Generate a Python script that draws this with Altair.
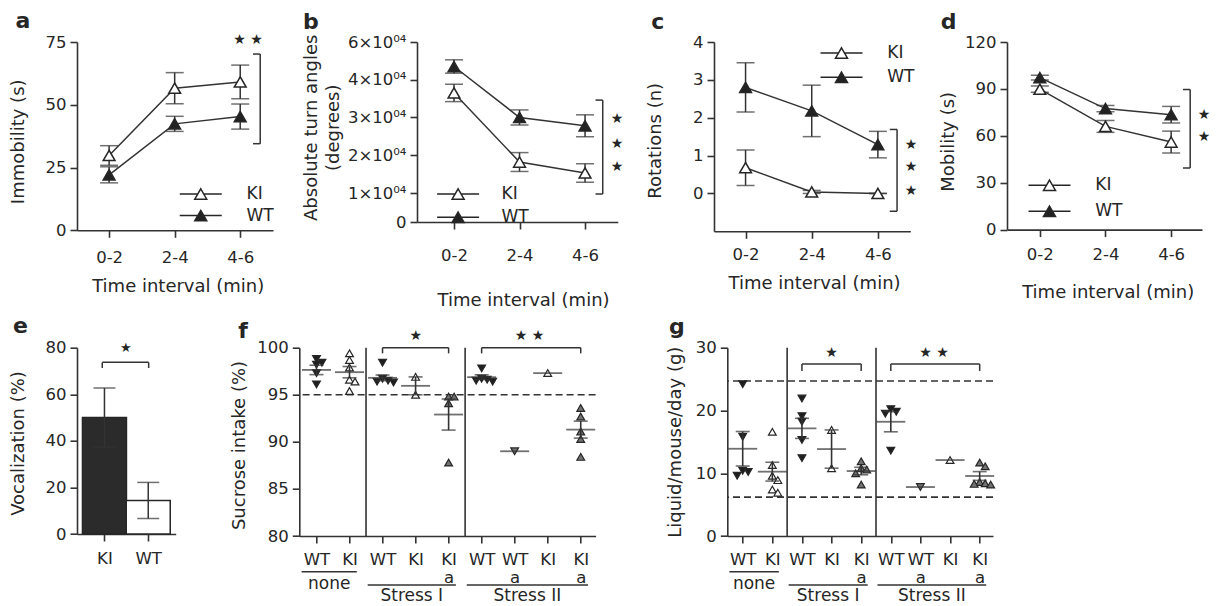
import altair as alt
import pandas as pd

FONT = "DejaVu Sans"
INK = "#262626"
AX = "#333333"

# ---------------- data ----------------
time_labels = ["0-2", "2-4", "4-6"]

a_ki_mean = [29.8, 56.6, 59.1]
a_ki_sem = [3.9, 6.2, 6.7]
a_wt_mean = [22.1, 42.4, 45.3]
a_wt_sem = [3.2, 3.0, 5.0]

b_ki_mean = [36500, 18200, 15300]
b_ki_sem = [2300, 2500, 2450]
b_wt_mean = [47000, 30000, 27800]
b_wt_sem = [3550, 2000, 2900]

c_ki_mean = [0.68, 0.04, 0.0]
c_ki_sem = [0.47, 0.04, 0.0]
c_wt_mean = [2.80, 2.18, 1.29]
c_wt_sem = [0.65, 0.68, 0.35]

d_ki_mean = [89.8, 66.0, 56.0]
d_ki_sem = [2.0, 3.8, 7.0]
d_wt_mean = [97.2, 77.4, 73.5]
d_wt_sem = [1.5, 2.0, 5.3]

e_groups = ["KI", "WT"]
e_mean = [50.0, 14.4]
e_sem = [12.7, 7.75]

grp_genotype = ["WT", "KI", "WT", "KI", "KI", "WT", "WT", "KI", "KI"]
grp_treat = ["", "", "", "", "a", "", "a", "", "a"]
grp_condition = ["none", "none", "Stress I", "Stress I", "Stress I",
                 "Stress II", "Stress II", "Stress II", "Stress II"]

f_values = [
    [98.8, 98.4, 98.2, 97.3, 96.1],
    [99.4, 98.7, 97.9, 96.6, 96.4, 95.4],
    [98.4, 96.7, 96.5, 96.4, 96.3],
    [96.9, 95.0],
    [94.8, 94.8, 94.1, 87.8],
    [97.8, 96.7, 96.6, 96.5, 96.4],
    [89.0],
    [97.3],
    [93.6, 92.7, 91.1, 90.3, 88.4],
]
f_mean = [97.64, 97.4, 96.8, 95.95, 92.9, 96.87, 89.0, 97.3, 91.3]
f_sem = [0.5, 0.6, 0.3, 0.95, 1.65, 0.25, 0.0, 0.0, 0.9]
f_reference = [95]

g_values = [
    [24.2, 15.8, 10.4, 10.2, 9.6],
    [16.6, 11.3, 9.6, 8.9, 7.4, 6.9],
    [21.9, 19.1, 18.2, 15.3, 12.4],
    [16.9, 10.8],
    [11.9, 10.8, 10.6, 10.0, 8.2],
    [20.2, 19.8, 19.5, 13.6],
    [7.8],
    [12.1],
    [11.7, 11.1, 8.6, 8.4, 8.3, 8.2],
]
g_mean = [13.9, 10.25, 17.15, 13.85, 10.35, 18.2, 7.8, 12.1, 9.56]
g_sem = [2.75, 1.5, 1.6, 3.05, 0.6, 1.6, 0.0, 0.0, 0.7]
g_reference = [24.7, 6.2]

# ---------------- helpers ----------------
LEG_PATH = "M-3.5,0H-0.5M0.5,0H3.5M0,-0.866L1,0.866L-1,0.866Z"


def letter_title(t, dx, dy):
    return alt.TitleParams(text=t, anchor="start", frame="group", dx=dx, dy=dy,
                           fontSize=22, fontWeight="bold", font=FONT, color=INK,
                           offset=0)


def line_panel(letter, kim, kis, wtm, wts, width, height, xdom, yscale, yvals,
               ylabel_expr, ytitle, ytx, yty, xtx, xty, xlabpad, legend,
               bracket, stars, ldx, ldy, title_lh=None):
    rows = []
    for g, m, s in (("KI", kim, kis), ("WT", wtm, wts)):
        for i, lab in enumerate(time_labels):
            rows.append({"i": i, "group": g, "mean": m[i], "lo": m[i] - s[i],
                         "hi": m[i] + s[i]})
    df = pd.DataFrame(rows)
    xa = alt.Axis(values=list(range(len(time_labels))),
                  labelExpr="[" + ",".join(f"'{t}'" for t in time_labels) + "][datum.value]",
                  title="Time interval (min)", titleX=xtx, titleY=xty,
                  titleBaseline="middle", titleAlign="center",
                  labelPadding=xlabpad)
    yk = dict(values=yvals, title=ytitle, titleX=ytx, titleY=yty,
              titleBaseline="middle", titleAlign="center", titleAngle=270)
    if ylabel_expr:
        yk["labelExpr"] = ylabel_expr
    if title_lh:
        yk["titleLineHeight"] = title_lh
    ya = alt.Axis(**yk)
    xs = alt.Scale(domain=xdom, nice=False, zero=False)

    def X(f):
        return alt.X(f"{f}:Q", scale=xs, axis=xa)

    def Y(f):
        return alt.Y(f"{f}:Q", scale=yscale, axis=ya)

    base = alt.Chart(df)
    line = base.mark_line(color=AX, strokeWidth=1.5).encode(X("i"), Y("mean"), detail="group:N")
    err = base.mark_rule(color=AX, strokeWidth=1.5).encode(X("i"), Y("lo"), y2="hi:Q")
    cap_lo = base.mark_tick(orient="horizontal", size=18, thickness=1.5, color=AX).encode(X("i"), Y("lo"))
    cap_hi = base.mark_tick(orient="horizontal", size=18, thickness=1.5, color=AX).encode(X("i"), Y("hi"))
    lx, ly, lrp, loff = legend
    pts = base.mark_point(shape="triangle-up", size=140, filled=True, stroke=INK,
                          strokeWidth=1.5, opacity=1).encode(
        X("i"), Y("mean"),
        fill=alt.Fill("group:N", scale=alt.Scale(domain=["KI", "WT"], range=["white", "#222222"]),
                      legend=alt.Legend(orient="none", legendX=lx, legendY=ly, title=None,
                                        symbolType=LEG_PATH, symbolSize=144,
                                        symbolStrokeColor=INK, symbolStrokeWidth=1.5,
                                        labelFontSize=17, labelFont=FONT, labelColor=INK,
                                        rowPadding=lrp, labelOffset=loff)))
    bx, by1, by2 = bracket
    bdf = pd.DataFrame({"x": [bx], "xl": [bx - 0.11], "y1": [by1], "y2": [by2]})
    bv = alt.Chart(bdf).mark_rule(color=AX, strokeWidth=1.5).encode(X("x"), Y("y1"), y2="y2:Q")
    bt = alt.Chart(bdf).mark_rule(color=AX, strokeWidth=1.5).encode(X("xl"), x2="x:Q", y=Y("y1"))
    bb = alt.Chart(bdf).mark_rule(color=AX, strokeWidth=1.5).encode(X("xl"), x2="x:Q", y=Y("y2"))
    sdf = pd.DataFrame(stars, columns=["x", "y", "t"])
    st = alt.Chart(sdf).mark_text(fontSize=14, color=INK, font=FONT).encode(X("x"), Y("y"), text="t:N")
    return alt.layer(line, err, cap_lo, cap_hi, pts, bv, bt, bb, st).properties(
        width=width, height=height, title=letter_title(letter, ldx, ldy))


pa = line_panel("a", a_ki_mean, a_ki_sem, a_wt_mean, a_wt_sem, 196, 188.3, [-0.49, 2.5],
                alt.Scale(domain=[0, 75], nice=False, zero=False), [0, 25, 50, 75], None,
                "Immobility (s)", -59, 99.3, 100.7, 56, 11.7, (115.25, 143.5, 3.6, 37.25),
                (2.305, 70.2, 34.5), [(2.12, 75.8, "★ ★")], -61.5, 0)

pb = line_panel("b", b_ki_mean, b_ki_sem, b_wt_mean, b_wt_sem, 200.8, 180, [-0.565, 2.5],
                alt.Scale(domain=[0, 10000, 40000, 60000], range=[180, 151, 37.7, 0],
                          nice=False, zero=False),
                [0, 10000, 20000, 30000, 40000, 60000],
                "datum.value == 0 ? '0' : format(datum.value / 10000, 'd') + '×10⁰⁴'",
                ["Absolute turn angles", "(degrees)"], -105.7, 85.3, 106, 78, 18.7,
                (32.6, 143.5, 5.3, 34.95),
                (2.27, 34600, 9655), [(2.49, 29514, "★"), (2.49, 22895, "★"), (2.49, 16805, "★")],
                -114, 0, title_lh=22.7)

pc = line_panel("c", c_ki_mean, c_ki_sem, c_wt_mean, c_wt_sem, 196.3, 189.3, [-0.477, 2.49],
                alt.Scale(domain=[-1, 4], nice=False, zero=False), [0, 1, 2, 3, 4], None,
                "Rotations (n)", -58.4, 98.3, 100, 52.5, 7.7, (119, 2.5, 6.3, 37.25),
                (2.29, 1.69, -0.47), [(2.5, 1.29, "★"), (2.5, 0.70, "★"), (2.5, 0.06, "★")],
                -62.7, 0)

pd_ = line_panel("d", d_ki_mean, d_ki_sem, d_wt_mean, d_wt_sem, 195, 187.6, [-0.5, 2.47],
                 alt.Scale(domain=[0, 120], nice=False, zero=False), [0, 30, 60, 90, 120], None,
                 "Mobility (s)", -58.3, 99.3, 100.7, 63, 10.2, (34, 134.8, 8, 37.25),
                 (2.29, 89.6, 39.4), [(2.5, 73.1, "★"), (2.5, 59.3, "★")],
                 -66.3, 0)

# ---------------- panel e ----------------
edf = pd.DataFrame({"i": list(range(len(e_groups))), "group": e_groups, "mean": e_mean,
                    "lo": [m - s for m, s in zip(e_mean, e_sem)],
                    "hi": [m + s for m, s in zip(e_mean, e_sem)]})
e_xs = alt.Scale(domain=[-0.513, 1.513], nice=False, zero=False)
e_xa = alt.Axis(values=[0, 1], labelExpr="[" + ",".join(f"'{g}'" for g in e_groups) + "][datum.value]",
                title=None, labelPadding=9)
e_ys = alt.Scale(domain=[0, 80], nice=False, zero=False)
e_ya = alt.Axis(values=[0, 20, 40, 60, 80], title="Vocalization (%)", titleX=-59, titleY=95.3,
                titleBaseline="middle", titleAlign="center", titleAngle=270)


def EX(f):
    return alt.X(f"{f}:Q", scale=e_xs, axis=e_xa)


def EY(f):
    return alt.Y(f"{f}:Q", scale=e_ys, axis=e_ya)


eb = alt.Chart(edf)
e_bar = eb.mark_bar(size=44, stroke=INK, strokeWidth=1.5).encode(
    EX("i"), EY("mean"),
    fill=alt.Fill("group:N", scale=alt.Scale(domain=e_groups, range=["#2b2b2b", "white"]), legend=None))
e_err = eb.mark_rule(color=AX, strokeWidth=1.5).encode(EX("i"), EY("lo"), y2="hi:Q")
e_clo = eb.mark_tick(orient="horizontal", size=22, thickness=1.5, color=AX).encode(EX("i"), EY("lo"))
e_chi = eb.mark_tick(orient="horizontal", size=22, thickness=1.5, color=AX).encode(EX("i"), EY("hi"))
ebr = pd.DataFrame({"x1": [-0.05], "x2": [1.01], "y": [73.7], "yd": [71.3]})
e_b1 = alt.Chart(ebr).mark_rule(color=AX, strokeWidth=1.5).encode(EX("x1"), x2="x2:Q", y=EY("y"))
e_b2 = alt.Chart(ebr).mark_rule(color=AX, strokeWidth=1.5).encode(EX("x1"), EY("y"), y2="yd:Q")
e_b3 = alt.Chart(ebr).mark_rule(color=AX, strokeWidth=1.5).encode(EX("x2"), EY("y"), y2="yd:Q")
e_st = alt.Chart(pd.DataFrame({"x": [0.49], "y": [79.7], "t": ["★"]})).mark_text(
    fontSize=13, color=INK, font=FONT).encode(EX("x"), EY("y"), text="t:N")
pe = alt.layer(e_bar, e_err, e_clo, e_chi, e_b1, e_b2, e_b3, e_st).properties(
    width=98.7, height=186.3, title=letter_title("e", -64, -1.5))


# ---------------- panels f, g ----------------
def swarm(vals, ppu_y, ppu_x, step=5.5):
    placed, offs = [], []
    for v in vals:
        y = v * ppu_y
        x = 0.0
        for k in [0, 1, -1, 2, -2, 3, -3, 4, -4]:
            x = k * step
            if all((x - px) ** 2 + (y - py) ** 2 >= step ** 2 for px, py in placed):
                break
        placed.append((x, y))
        offs.append(x / ppu_x)
    return offs


KINDS = ["WT", "KI", "KIa", "WTa"]
KIND_SHAPE = ["triangle-down", "triangle-up", "triangle-up", "triangle-down"]
KIND_FILL = ["#1e1e1e", "white", "#727272", "#727272"]


def scatter_panel(letter, values, means, sems, refs, width, height, ydom, yvals, ytitle,
                  ytx, yty, brackets, stars, ldx, ldy):
    n = len(grp_genotype)
    xdom = [-0.52, 8.45]
    ppu_x = width / (xdom[1] - xdom[0])
    ppu_y = height / (ydom[1] - ydom[0])
    prow = []
    for i, vals in enumerate(values):
        kind = grp_genotype[i] + grp_treat[i]
        for v, o in zip(vals, swarm(vals, ppu_y, ppu_x)):
            prow.append({"xj": i + o, "v": v, "kind": kind})
    pdf = pd.DataFrame(prow)
    mdf = pd.DataFrame({"i": list(range(n)), "mean": means,
                        "lo": [m - s for m, s in zip(means, sems)],
                        "hi": [m + s for m, s in zip(means, sems)], "sem": sems})
    sdf = mdf[mdf["sem"] > 0]
    labels = [g + ("|" + t if t else "") for g, t in zip(grp_genotype, grp_treat)]
    xa = alt.Axis(values=list(range(n)),
                  labelExpr="split([" + ",".join(f"'{l}'" for l in labels) + "][datum.value], '|')",
                  title=None, labelPadding=8, labelLineHeight=18, labelAngle=0)
    xs = alt.Scale(domain=xdom, nice=False, zero=False)
    ys = alt.Scale(domain=ydom, nice=False, zero=False)
    ya = alt.Axis(values=yvals, title=ytitle, titleX=ytx, titleY=yty,
                  titleBaseline="middle", titleAlign="center", titleAngle=270)

    def X(f):
        return alt.X(f"{f}:Q", scale=xs, axis=xa)

    def Y(f):
        return alt.Y(f"{f}:Q", scale=ys, axis=ya)

    conds = []
    for c in dict.fromkeys(grp_condition):
        idx = [i for i, cc in enumerate(grp_condition) if cc == c]
        has_sub = any(grp_treat[i] for i in idx)
        conds.append({"c": c, "x1": idx[0] - 0.45, "x2": idx[-1] + 0.22,
                      "xm": (idx[0] - 0.45 + idx[-1] + 0.22) / 2, "sub": has_sub,
                      "first": idx[0]})
    cdf = pd.DataFrame(conds)
    sep = pd.DataFrame({"s": [r["first"] - 0.5 for r in conds[1:]]})

    sep_l = alt.Chart(sep).mark_rule(color=AX, strokeWidth=1.6).encode(X("s"))
    ref_l = alt.Chart(pd.DataFrame({"r": refs})).mark_rule(
        color=AX, strokeWidth=1.6, strokeDash=[7, 4]).encode(Y("r"))
    pts = alt.Chart(pdf).mark_point(filled=True, size=60, stroke=INK, strokeWidth=1.2, opacity=1).encode(
        X("xj"), Y("v"),
        shape=alt.Shape("kind:N", scale=alt.Scale(domain=KINDS, range=KIND_SHAPE), legend=None),
        fill=alt.Fill("kind:N", scale=alt.Scale(domain=KINDS, range=KIND_FILL), legend=None))
    mean_t = alt.Chart(mdf).mark_tick(orient="horizontal", size=29, thickness=1.8, color=AX).encode(X("i"), Y("mean"))
    sem_r = alt.Chart(sdf).mark_rule(color=AX, strokeWidth=1.6).encode(X("i"), Y("lo"), y2="hi:Q")
    sem_lo = alt.Chart(sdf).mark_tick(orient="horizontal", size=14, thickness=1.6, color=AX).encode(X("i"), Y("lo"))
    sem_hi = alt.Chart(sdf).mark_tick(orient="horizontal", size=14, thickness=1.6, color=AX).encode(X("i"), Y("hi"))
    bdf = pd.DataFrame(brackets, columns=["x1", "x2", "y", "yd"])
    b1 = alt.Chart(bdf).mark_rule(color=AX, strokeWidth=1.5).encode(X("x1"), x2="x2:Q", y=Y("y"))
    b2 = alt.Chart(bdf).mark_rule(color=AX, strokeWidth=1.5).encode(X("x1"), Y("y"), y2="yd:Q")
    b3 = alt.Chart(bdf).mark_rule(color=AX, strokeWidth=1.5).encode(X("x2"), Y("y"), y2="yd:Q")
    st = alt.Chart(pd.DataFrame(stars, columns=["x", "y", "t"])).mark_text(
        fontSize=14, color=INK, font=FONT).encode(X("x"), Y("y"), text="t:N")
    c_top = cdf[~cdf["sub"]]
    c_bot = cdf[cdf["sub"]]
    u1 = alt.Chart(c_top).mark_rule(color=AX, strokeWidth=1.6).encode(X("x1"), x2="x2:Q", y=alt.value(height + 35.7))
    u2 = alt.Chart(c_bot).mark_rule(color=AX, strokeWidth=1.6).encode(X("x1"), x2="x2:Q", y=alt.value(height + 49))
    t1 = alt.Chart(c_top).mark_text(fontSize=17, color=INK, font=FONT, baseline="middle").encode(
        X("xm"), y=alt.value(height + 48), text="c:N")
    t2 = alt.Chart(c_bot).mark_text(fontSize=17, color=INK, font=FONT, baseline="middle").encode(
        X("xm"), y=alt.value(height + 60), text="c:N")
    return alt.layer(sep_l, ref_l, pts, mean_t, sem_r, sem_lo, sem_hi, b1, b2, b3, st,
                     u1, u2, t1, t2).properties(width=width, height=height,
                                                title=letter_title(letter, ldx, ldy))


pf = scatter_panel("f", f_values, f_mean, f_sem, f_reference, 296.3, 188.3, [80, 100],
                   [80, 85, 90, 95, 100], "Sucrose intake (%)", -59.3, 97.3,
                   [(2, 4, 100, 99.4), (5, 8, 100, 99.4)],
                   [(3.01, 101.2, "★"), (6.45, 101.2, "★ ★")], -61, 13.6)

pg = scatter_panel("g", g_values, g_mean, g_sem, g_reference, 265.7, 188.3, [0, 30],
                   [0, 10, 20, 30], "Liquid/mouse/day (g)", -51.6, 94,
                   [(2, 4, 27.4, 26.3), (5, 8, 27.4, 26.3)],
                   [(3.0, 29.1, "★"), (6.46, 29.1, "★ ★")], -58.3, -0.7)

RES = dict(fill="independent", shape="independent", stroke="independent", color="independent")


def hc(*charts, spacing):
    return alt.hconcat(*charts, spacing=spacing, bounds="flush").resolve_scale(**RES).resolve_legend(
        fill="independent")


top = hc(pa, hc(pb, pc, pd_, spacing=96), spacing=144)
bottom = hc(pe, hc(pf, pg, spacing=131), spacing=123.3)

chart = alt.vconcat(top, bottom, spacing=305.7, bounds="flush").resolve_scale(**RES).resolve_legend(
    fill="independent").properties(
    padding={"left": 0, "top": 1, "right": 0, "bottom": 0}
).configure_view(stroke=None).configure_axis(
    domainColor=AX, domainWidth=1.6, tickColor=AX, tickWidth=1.6, tickSize=7,
    labelFont=FONT, labelColor=INK, labelFontSize=16.5, labelPadding=4,
    titleFont=FONT, titleColor=INK, titleFontSize=18, titleFontWeight="normal",
    grid=False
)

chart.save("out.html", embed_options={"renderer": "svg", "actions": False})
